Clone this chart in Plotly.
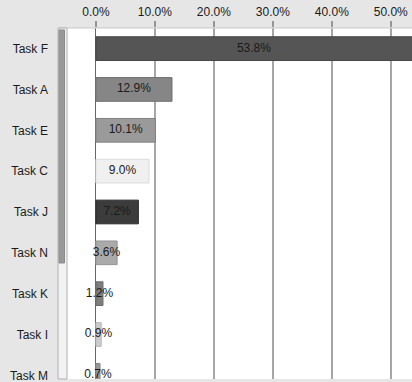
import plotly.graph_objects as go

tasks = ["Task F", "Task A", "Task E", "Task C", "Task J", "Task N", "Task K", "Task I", "Task M"]
values = [53.8, 12.9, 10.1, 9.0, 7.2, 3.6, 1.2, 0.9, 0.7]
labels = ["53.8%", "12.9%", "10.1%", "9.0%", "7.2%", "3.6%", "1.2%", "0.9%", "0.7%"]
colors = ["#555555", "#868686", "#9a9a9a", "#f0f0f0", "#3c3c3c", "#aaaaaa", "#7e7e7e", "#cccccc", "#9a9a9a"]
line_colors = ["#444444", "#6e6e6e", "#808080", "#dcdcdc", "#2a2a2a", "#949494", "#6a6a6a", "#b8b8b8", "#848484"]
tick_vals = [0, 10, 20, 30, 40, 50]
tick_text = ["0.0%", "10.0%", "20.0%", "30.0%", "40.0%", "50.0%"]

x_min, x_max = -4.9, 53.6
label_x = [min(v, x_max) / 2 for v in values]

fig = go.Figure()
fig.add_trace(go.Bar(
    y=tasks, x=values, orientation="h",
    marker=dict(color=colors, line=dict(color=line_colors, width=1)),
    width=0.58, hoverinfo="skip",
))
fig.add_trace(go.Scatter(
    y=tasks, x=label_x, mode="text", text=labels,
    textfont=dict(family="Liberation Sans, Arial, sans-serif", size=12, color="#1a1a1a"),
    hoverinfo="skip",
))

fig.update_layout(
    width=412, height=382,
    margin=dict(l=67, r=0, t=28, b=0),
    paper_bgcolor="#e6e6e6",
    plot_bgcolor="#ffffff",
    showlegend=False,
    font=dict(family="Liberation Sans, Arial, sans-serif", size=12, color="#1a1a1a"),
    xaxis=dict(
        side="top", range=[x_min, x_max],
        tickmode="array", tickvals=tick_vals, ticktext=tick_text,
        showgrid=True, gridcolor="rgba(0,0,0,0.35)", gridwidth=2,
        ticks="outside", ticklen=6, tickwidth=2, tickcolor="rgba(0,0,0,0.35)",
        zeroline=True, zerolinecolor="#666666", zerolinewidth=1,
        layer="above traces", showline=False, fixedrange=True,
    ),
    yaxis=dict(
        range=[8.09, -0.505], showgrid=False, zeroline=False, showline=False,
        ticks="", ticklabelstandoff=18, fixedrange=True,
    ),
    shapes=[
        dict(type="line", xref="paper", yref="paper", x0=-9/345, x1=1, y0=1, y1=1,
             line=dict(color="#c8c8c8", width=1)),
        dict(type="rect", xref="paper", yref="paper", x0=-9/345, x1=0, y0=0, y1=1,
             fillcolor="#f2f2f2", line=dict(color="#b0b0b0", width=1)),
        dict(type="rect", xref="paper", yref="paper", x0=-8/345, x1=-2.5/345,
             y0=1 - (265 - 28) / 354, y1=1 - (30 - 28) / 354,
             fillcolor="#999999", line=dict(color="#8a8a8a", width=1)),
    ],
)

fig.write_html("out.html")
